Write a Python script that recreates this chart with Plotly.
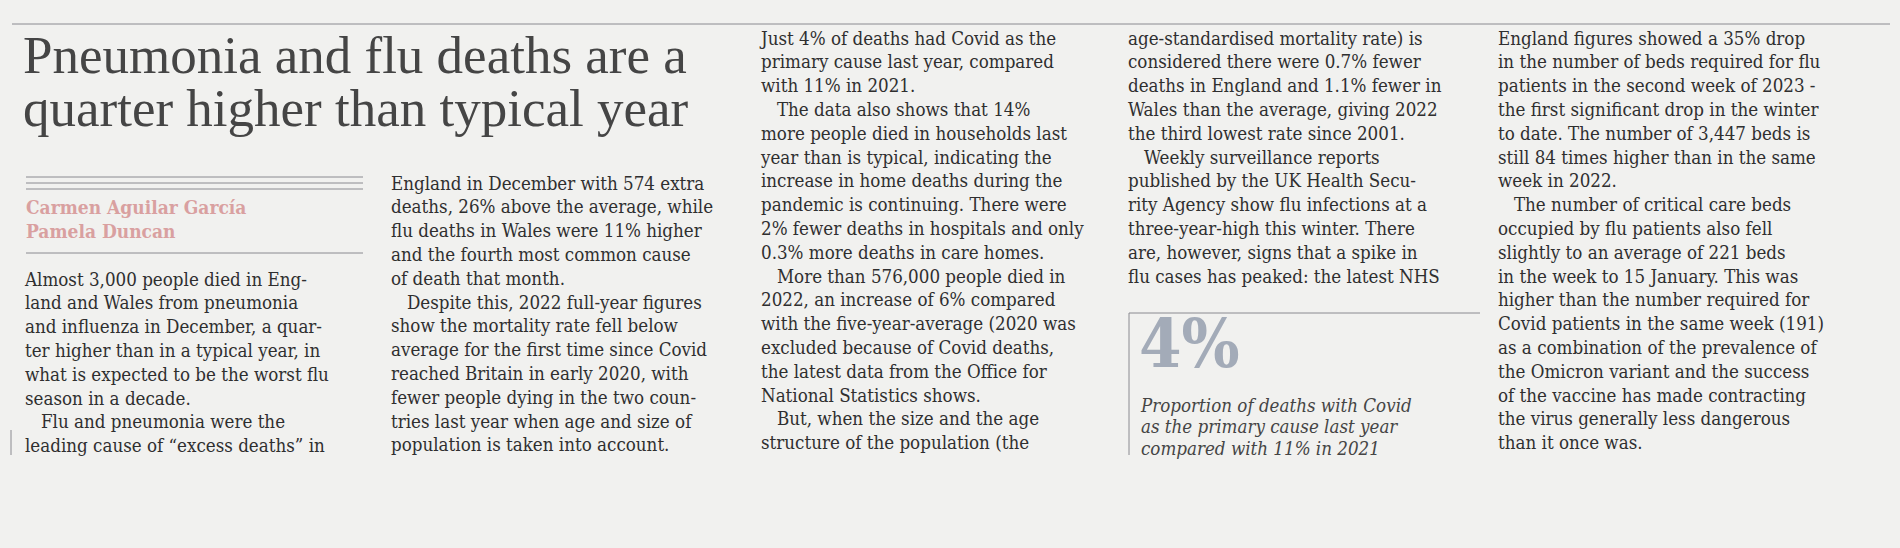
import plotly.graph_objects as go

# headline / byline
titulo = ["Pneumonia and flu deaths are a", "quarter higher than typical year"]
autores = ["Carmen Aguilar García", "Pamela Duncan"]

IND = "\u00a0\u00a0\u00a0"

col1 = [
    "Almost 3,000 people died in Eng-",
    "land and Wales from pneumonia",
    "and influenza in December, a quar-",
    "ter higher than in a typical year, in",
    "what is expected to be the worst flu",
    "season in a decade.",
    IND + "Flu and pneumonia were the",
    "leading cause of “excess deaths” in",
]
col2 = [
    "England in December with 574 extra",
    "deaths, 26% above the average, while",
    "flu deaths in Wales were 11% higher",
    "and the fourth most common cause",
    "of death that month.",
    IND + "Despite this, 2022 full-year figures",
    "show the mortality rate fell below",
    "average for the first time since Covid",
    "reached Britain in early 2020, with",
    "fewer people dying in the two coun-",
    "tries last year when age and size of",
    "population is taken into account.",
]
col3 = [
    "Just 4% of deaths had Covid as the",
    "primary cause last year, compared",
    "with 11% in 2021.",
    IND + "The data also shows that 14%",
    "more people died in households last",
    "year than is typical, indicating the",
    "increase in home deaths during the",
    "pandemic is continuing. There were",
    "2% fewer deaths in hospitals and only",
    "0.3% more deaths in care homes.",
    IND + "More than 576,000 people died in",
    "2022, an increase of 6% compared",
    "with the five-year-average (2020 was",
    "excluded because of Covid deaths,",
    "the latest data from the Office for",
    "National Statistics shows.",
    IND + "But, when the size and the age",
    "structure of the population (the",
]
col4 = [
    "age-standardised mortality rate) is",
    "considered there were 0.7% fewer",
    "deaths in England and 1.1% fewer in",
    "Wales than the average, giving 2022",
    "the third lowest rate since 2001.",
    IND + "Weekly surveillance reports",
    "published by the UK Health Secu-",
    "rity Agency show flu infections at a",
    "three-year-high this winter. There",
    "are, however, signs that a spike in",
    "flu cases has peaked: the latest NHS",
]
col5 = [
    "England figures showed a 35% drop",
    "in the number of beds required for flu",
    "patients in the second week of 2023 -",
    "the first significant drop in the winter",
    "to date. The number of 3,447 beds is",
    "still 84 times higher than in the same",
    "week in 2022.",
    IND + "The number of critical care beds",
    "occupied by flu patients also fell",
    "slightly to an average of 221 beds",
    "in the week to 15 January. This was",
    "higher than the number required for",
    "Covid patients in the same week (191)",
    "as a combination of the prevalence of",
    "the Omicron variant and the success",
    "of the vaccine has made contracting",
    "the virus generally less dangerous",
    "than it once was.",
]

cifra = "<b>4%</b>"
pie_cifra = [
    "<i>Proportion of deaths with Covid</i>",
    "<i>as the primary cause last year</i>",
    "<i>compared with 11% in 2021</i>",
]

TINTA = "#2f2f2f"
CUERPO = "DejaVu Serif Condensed"
PASO = 23.8

fig = go.Figure()


def columna(lineas, x, y0, paso=PASO, size=18.6, color=TINTA, family=CUERPO):
    fig.add_trace(
        go.Scatter(
            x=[x] * len(lineas),
            y=[y0 + i * paso for i in range(len(lineas))],
            mode="text",
            text=lineas,
            textposition="middle right",
            textfont=dict(family=family, size=size, color=color),
            hoverinfo="skip",
            showlegend=False,
        )
    )


columna(titulo, 23, 60, paso=53, size=53, color="#454545", family="Liberation Serif")
columna(["<b>%s</b>" % a for a in autores], 26, 209, paso=24, size=19,
        color="#d9a0a0", family="DejaVu Serif Condensed")
columna(col1, 25, 281)
columna(col2, 391, 185)
columna(col3, 761, 40)
columna(col4, 1128, 40)
columna(col5, 1498, 40)
columna([cifra], 1139, 350, size=68, color="#a3abb8", family="DejaVu Serif Condensed")
columna(pie_cifra, 1141, 407, paso=21.5, size=18.6, color="#454545")

lineas = [
    dict(x0=12, x1=1890, y0=24, y1=24),
    dict(x0=26, x1=363, y0=177, y1=177),
    dict(x0=26, x1=363, y0=183, y1=183),
    dict(x0=26, x1=363, y0=189, y1=189),
    dict(x0=26, x1=363, y0=253, y1=253),
    dict(x0=1129, x1=1480, y0=313, y1=313),
    dict(x0=1129, x1=1129, y0=313, y1=455),
    dict(x0=11, x1=11, y0=430, y1=455),
]
for l in lineas:
    fig.add_shape(
        type="line", x0=l["x0"], x1=l["x1"], y0=l["y0"], y1=l["y1"],
        line=dict(color="#8a8a90", width=1), layer="below",
    )

fig.update_layout(
    width=1900,
    height=548,
    margin=dict(l=0, r=0, t=0, b=0),
    paper_bgcolor="#f1f1ef",
    plot_bgcolor="#f1f1ef",
    xaxis=dict(range=[0, 1900], visible=False, fixedrange=True),
    yaxis=dict(range=[548, 0], visible=False, fixedrange=True),
)

fig.write_html(
    "out.html",
    config={"displayModeBar": False},
    post_script="document.body.style.margin='0';document.body.style.background='#f1f1ef';",
)
